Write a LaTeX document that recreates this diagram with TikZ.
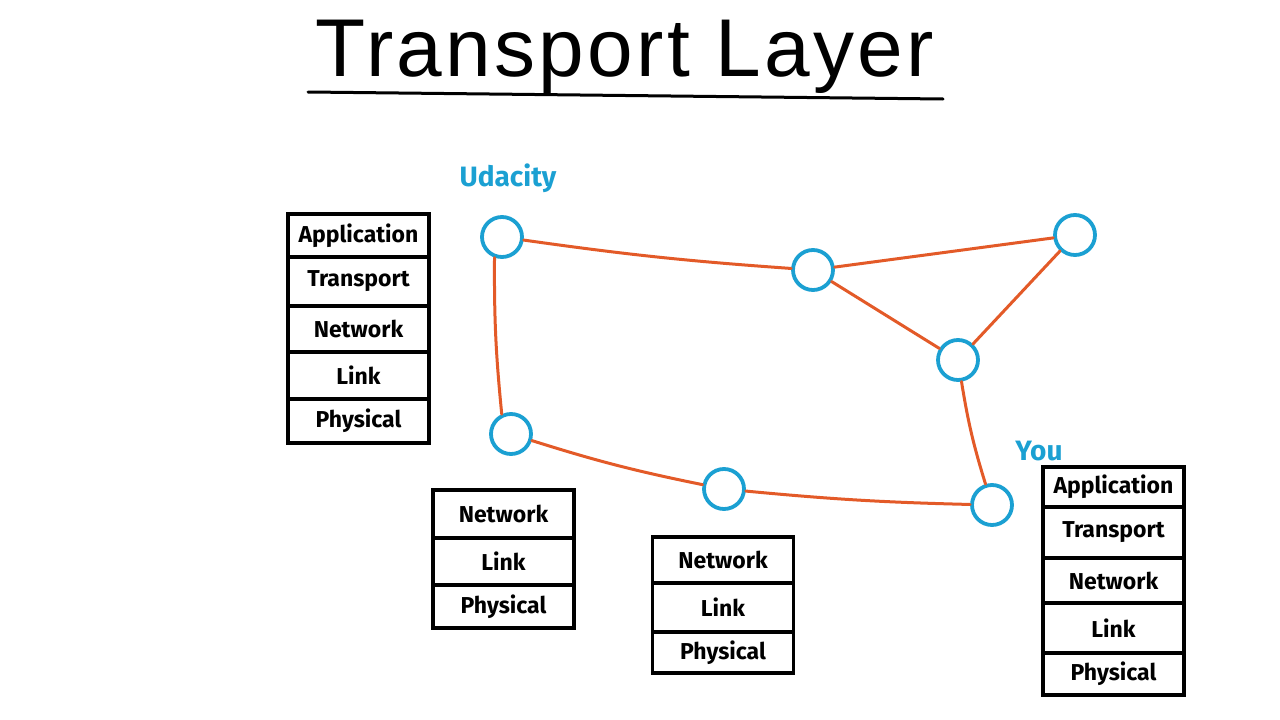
\documentclass[tikz,border=0pt]{standalone}
\usepackage{fontspec}
\setmainfont{Fira Sans}
\newfontfamily\titlefont[LetterSpace=4]{Liberation Sans}
\definecolor{netblue}{HTML}{1BA0D2}
\definecolor{netorange}{HTML}{E35A28}
\begin{document}
\begin{tikzpicture}[x=1pt,y=-1pt,
  router/.style={circle,draw=netblue,line width=3.8pt,minimum size=40pt,inner sep=0pt,fill=white},
  link/.style={draw=netorange,line width=3pt,line cap=round},
  layer/.style={draw=black,line width=3.6pt,minimum width=141pt,inner sep=0pt,font=\bfseries\fontsize{23}{23}\selectfont},
  lbl/.style={text=netblue,font=\bfseries\fontsize{28}{28}\selectfont}]
\useasboundingbox (0,0) rectangle (1280,720);
% title
\node[font=\titlefont\fontsize{82}{82}\selectfont,anchor=base] (title) at (625,76) {Transport Layer};
\coordinate (ulA) at (308,92);
\coordinate (ulB) at (943,99);
\draw[line width=3pt,line cap=round] (ulA) -- (ulB);
% routers
\node[router] (U) at (502,237) {};
\node[router] (A) at (813,270) {};
\node[router] (B) at (1075,235) {};
\node[router] (C) at (958,360) {};
\node[router] (D) at (511,434) {};
\node[router] (E) at (724,489) {};
\node[router] (Y) at (992,505) {};
% links
\draw[link] (U) to[bend left=-2] (A);
\draw[link] (A) -- (B);
\draw[link] (A) -- (C);
\draw[link] (B) -- (C);
\draw[link] (C) to[bend left=-4] (Y);
\draw[link] (U.250) to[bend left=-3] (D.115);
\draw[link] (D) to[bend left=-3] (E);
\draw[link] (E) to[bend left=-2] (Y);
% labels
\node[lbl] (udacity) at (508,178) {Udacity};
\node[lbl] (you) at (1039,451) {You};
% left stack
\node[layer,minimum height=43pt] (l1) at (358.5,235.5) {Application};
\node[layer,minimum height=49pt] (l2) at (358.5,281.5) {Transport};
\node[layer,minimum height=46pt] (l3) at (358.5,329) {Network};
\node[layer,minimum height=47pt] (l4) at (358.5,375.5) {Link};
\node[layer,minimum height=44pt] (l5) at (358.5,421) {Physical};
% middle-left stack
\node[layer,minimum height=48pt] (m1) at (503.5,514) {Network};
\node[layer,minimum height=47pt] (m2) at (503.5,561.5) {Link};
\node[layer,minimum height=43pt] (m3) at (503.5,606.5) {Physical};
% middle-right stack
\node[layer,minimum height=46pt] (n1) at (723,560) {Network};
\node[layer,minimum height=49pt] (n2) at (723,607.5) {Link};
\node[layer,minimum height=41pt] (n3) at (723,652.5) {Physical};
% right stack
\node[layer,minimum height=40pt] (r1) at (1113.5,487) {Application};
\node[layer,minimum height=51pt] (r2) at (1113.5,532.5) {Transport};
\node[layer,minimum height=45pt] (r3) at (1113.5,580.5) {Network};
\node[layer,minimum height=50pt] (r4) at (1113.5,628) {Link};
\node[layer,minimum height=42pt] (r5) at (1113.5,674) {Physical};
\end{tikzpicture}
\end{document}
